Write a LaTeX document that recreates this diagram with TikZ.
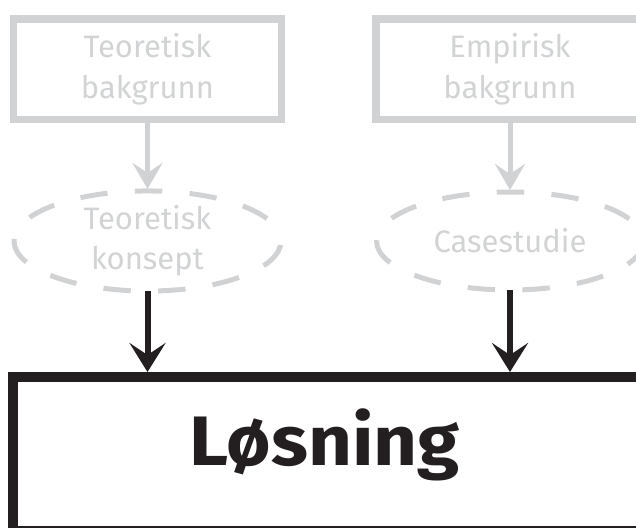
\documentclass[tikz,border=0pt]{standalone}
\usepackage{fontspec}
\setmainfont{Fira Sans}
\newfontfamily\titlefont{Fira Sans Bold}[FakeStretch=1.09]
\usetikzlibrary{arrows.meta,shapes.geometric}
\definecolor{lightrule}{HTML}{D1D2D4}
\definecolor{lighttext}{HTML}{D1D3D4}
\definecolor{ink}{HTML}{231F20}
\begin{document}
\begin{tikzpicture}[x=1pt,y=-1pt,
  sourcebox/.style={rectangle, draw=lightrule, line width=7.5pt, outer sep=0pt,
    minimum width=268pt, minimum height=100.5pt, inner sep=0pt,
    text=lighttext, align=center, font=\fontsize{31}{41}\selectfont},
  ideaoval/.style={ellipse, draw=lightrule, line width=5pt, outer sep=0pt,
    dash pattern=on 27.4pt off 27.4pt, dash phase=27.45pt,
    minimum width=267pt, minimum height=98pt, inner sep=0pt,
    text=lighttext, align=center, font=\fontsize{31}{40}\selectfont},
  feed/.style={draw=lightrule, line width=5pt,
    -{Stealth[length=26pt,width=30pt,inset=10pt]}},
  lead/.style={draw=ink, line width=6pt,
    -{Stealth[length=29pt,width=36pt,inset=12pt]}},
  framebox/.style={rectangle, draw=ink, line width=10pt, outer sep=0pt,
    inner sep=0pt, anchor=north west}
]
\useasboundingbox (0,0) rectangle (636,527);
\clip (0,0) rectangle (636,527);

% upper row: sources
\node[sourcebox] (theo) at (147.5,69.25) {Teoretisk\\bakgrunn};
\node[sourcebox] (emp)  at (510,69.25)   {Empirisk\\bakgrunn};

% middle row: intermediate results
\node[ideaoval] (concept) at (147.5,241) {Teoretisk\\konsept};
\node[ideaoval] (case)    at (510,241)   {Casestudie};

% result frame and its title
\node[framebox, minimum width=700pt, minimum height=154pt] (sol) at (13,377) {};
\node[font=\titlefont\fontsize{70}{70}\selectfont, text=ink, inner sep=0pt,
      anchor=base] (soltitle) at (324.5,465) {Løsning};

% connectors
\draw[feed, shorten >=2pt] (theo.south) -- (concept.north);
\draw[feed, shorten >=2pt] (emp.south) -- (case.north);
\draw[lead, shorten >=5pt] (concept.south) -- (concept.south |- sol.north);
\draw[lead, shorten >=5pt] (case.south) -- (case.south |- sol.north);
\end{tikzpicture}
\end{document}
